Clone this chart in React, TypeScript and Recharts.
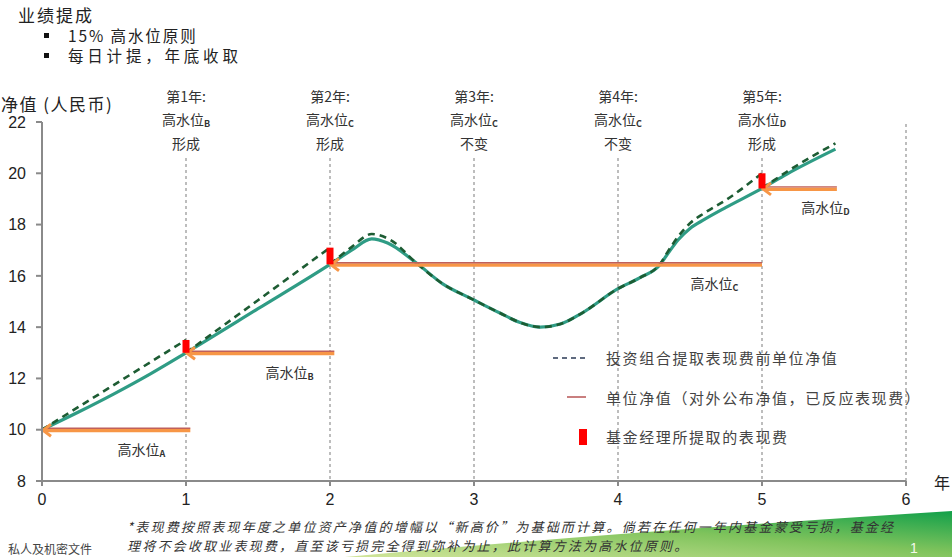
import React from 'react';
import { ComposedChart, Line, XAxis, YAxis, ReferenceLine, Legend } from 'recharts';

// ---- axes ----
const xTicks = [0, 1, 2, 3, 4, 5, 6];
const yTicks = [8, 10, 12, 14, 16, 18, 20, 22];

// ---- unit NAV (after performance fee) ----
const navX = [0, 0.25, 0.5, 0.75, 1, 1.5, 2, 2.15, 2.29, 2.4, 2.6, 2.78, 3, 3.18, 3.32, 3.46, 3.6, 3.75, 4, 4.15, 4.29, 4.35, 4.42, 4.5, 4.6, 4.75, 5, 5.17, 5.51];
const navY = [10, 10.68, 11.4, 12.17, 13, 14.72, 16.45, 17.0, 17.44, 17.28, 16.5, 15.7, 15.06, 14.55, 14.18, 14.0, 14.12, 14.55, 15.5, 15.92, 16.42, 16.9, 17.42, 17.85, 18.2, 18.67, 19.41, 19.96, 20.94];

// ---- NAV before performance fee, one segment per fee period ----
const grossX1 = [0, 0.5, 1];
const grossY1 = [10, 11.75, 13.5];
const grossX2 = [1, 1.5, 2];
const grossY2 = [13, 15.05, 17.1];
const grossX3 = [2, 2.15, 2.29, 2.42, 2.6, 2.78, 3, 3.18, 3.32, 3.46, 3.6, 3.75, 4, 4.15, 4.29, 4.35, 4.42, 4.5, 4.6, 4.75, 5];
const grossY3 = [16.45, 17.12, 17.63, 17.4, 16.5, 15.7, 15.06, 14.55, 14.18, 14.0, 14.12, 14.55, 15.5, 15.92, 16.45, 16.98, 17.55, 18.05, 18.45, 18.96, 20.0];
const grossX4 = [5, 5.17, 5.51];
const grossY4 = [19.41, 20.05, 21.17];

// ---- performance fees charged (year, NAV after fee, NAV before fee) ----
const feeYear = [1, 2, 5];
const feeLow = [13, 16.45, 19.41];
const feeHigh = [13.5, 17.1, 20.0];

// ---- high-water marks ----
const hwmName = ['A', 'B', 'C', 'D'];
const hwmLevel = [10, 13, 16.45, 19.41];
const hwmStart = [0, 1, 2, 5];
const hwmEnd = [1.03, 2.03, 5, 5.52];
const hwmLabelX = [0.69, 1.72, 4.67, 5.44];

// ---- yearly notes above the chart ----
const noteYear = [1, 2, 3, 4, 5];
const noteTitle = ['第1年:', '第2年:', '第3年:', '第4年:', '第5年:'];
const noteMark = ['B', 'C', 'C', 'C', 'D'];
const noteStatus = ['形成', '形成', '不变', '不变', '形成'];
const guideTop = 20.6;

const legendLabels = ['投资组合提取表现费前单位净值', '单位净值（对外公布净值，已反应表现费）', '基金经理所提取的表现费'];

const zip = (xs: number[], ys: number[]) => xs.map((x, i) => ({ x, y: ys[i] }));
const navData = zip(navX, navY);
const grossSegments = [zip(grossX1, grossY1), zip(grossX2, grossY2), zip(grossX3, grossY3), zip(grossX4, grossY4)];
const feeSegments = feeYear.map((yr, i) => [{ x: yr, y: feeLow[i] }, { x: yr, y: feeHigh[i] }]);

const CJK = "'Noto Sans CJK SC', 'Liberation Sans', sans-serif";
const LAT = "'Liberation Sans', Arial, sans-serif";

const TEAL = '#2f9c85';
const DARK = '#1d5c33';
const ORANGE = '#f79646';
const PINK = '#c0605a';

const noteLabel = (i: number) => (props: any) => {
  const vb = props.viewBox || {};
  const cx = vb.x;
  const top = vb.y;
  const common = { textAnchor: 'middle' as const, dominantBaseline: 'central' as const, fill: '#333', fontSize: 14, fontFamily: CJK };
  return (
    <g>
      <text x={cx} y={top - 62} {...common}>{noteTitle[i]}</text>
      <text x={cx} y={top - 39} {...common}>
        高水位<tspan fontSize={9} fontWeight="bold" dy={4}>{noteMark[i]}</tspan>
      </text>
      <text x={cx} y={top - 15} {...common}>{noteStatus[i]}</text>
    </g>
  );
};

const hwmShape = (i: number) => (props: any) => {
  const { x1, y1, x2 } = props;
  const left = Math.min(x1, x2);
  const right = Math.max(x1, x2);
  const y = y1;
  const lx = left + ((hwmLabelX[i] - hwmStart[i]) / (hwmEnd[i] - hwmStart[i])) * (right - left);
  return (
    <g>
      <line x1={left + 2} y1={y + 0.8} x2={right} y2={y + 0.8} stroke={ORANGE} strokeWidth={3.5} />
      <line x1={left + 5} y1={y - 1.5} x2={right} y2={y - 1.5} stroke={PINK} strokeWidth={1.4} />
      <polyline points={`${left + 9},${y - 5.5} ${left + 1},${y + 0.5} ${left + 9},${y + 6.5}`} fill="none" stroke={ORANGE} strokeWidth={3} />
      <text x={lx} y={y + 19} textAnchor="middle" dominantBaseline="central" fill="#333" fontSize={14} fontFamily={CJK}>
        高水位<tspan fontSize={9} fontWeight="bold" dy={4}>{hwmName[i]}</tspan>
      </text>
    </g>
  );
};

const LegendBox = () => (
  <div style={{ fontFamily: CJK, fontSize: 15, color: '#444', letterSpacing: 1.6 }}>
    {legendLabels.map((label, i) => (
      <div key={i} style={{ display: 'flex', alignItems: 'center', height: 39.5 }}>
        <div style={{ width: 58, height: 20, position: 'relative' }}>
          {i === 0 && (
            <svg width={58} height={20} style={{ position: 'absolute', left: 0, top: 0 }}>
              <line x1={5} y1={10} x2={38} y2={10} stroke="#2b3a55" strokeWidth={1.5} strokeDasharray="5 4" />
            </svg>
          )}
          {i === 1 && (
            <svg width={58} height={20} style={{ position: 'absolute', left: 0, top: 0 }}>
              <line x1={19} y1={10} x2={38} y2={10} stroke="#a52a2a" strokeWidth={1.2} />
            </svg>
          )}
          {i === 2 && (
            <svg width={58} height={20} style={{ position: 'absolute', left: 0, top: 0 }}>
              <rect x={31} y={2} width={8} height={16} fill="#ff0000" />
            </svg>
          )}
        </div>
        <span>{label}</span>
      </div>
    ))}
  </div>
);

export default function App() {
  return (
    <div style={{ position: 'absolute', left: 0, top: 0, width: 952, height: 557, overflow: 'hidden', background: '#fff' }}>
      <svg width={952} height={557} style={{ position: 'absolute', left: 0, top: 0 }}>
        <defs>
          <linearGradient id="swoosh" x1="1" y1="0" x2="0" y2="1">
            <stop offset="0" stopColor="#12a04a" />
            <stop offset="0.45" stopColor="#7fc35c" />
            <stop offset="1" stopColor="#d2e59a" />
          </linearGradient>
        </defs>
        <path d="M 345 557 Q 620 532 952 511 L 952 557 Z" fill="url(#swoosh)" />
      </svg>

      <div style={{ position: 'absolute', left: 0, top: 0 }}>
        <ComposedChart width={952} height={557} margin={{ top: 122, right: 46, bottom: 46, left: 0 }}>
          <XAxis
            dataKey="x"
            type="number"
            domain={[0, 6]}
            ticks={xTicks}
            interval={0}
            stroke="#8a8a8a"
            strokeWidth={2}
            tickSize={5}
            tickMargin={8}
            height={30}
            tick={{ fill: '#222', fontSize: 16, fontFamily: LAT }}
          />
          <YAxis
            dataKey="y"
            type="number"
            domain={[8, 22]}
            ticks={yTicks}
            interval={0}
            width={42}
            stroke="#8a8a8a"
            strokeWidth={2}
            tickSize={6}
            tickMargin={10}
            tick={{ fill: '#222', fontSize: 16, fontFamily: LAT }}
          />
          {noteYear.map((yr, i) => (
            <ReferenceLine
              key={`g${yr}`}
              segment={[{ x: yr, y: guideTop }, { x: yr, y: 8 }]}
              stroke="#9a9a9a"
              strokeWidth={1.3}
              strokeDasharray="3 3"
              label={noteLabel(i)}
            />
          ))}
          <ReferenceLine x={6} stroke="#9a9a9a" strokeWidth={1.3} strokeDasharray="3 3" />

          <Line data={navData} dataKey="y" type="monotone" stroke={TEAL} strokeWidth={3.2} dot={false} activeDot={false} isAnimationActive={false} />
          {grossSegments.map((seg, i) => (
            <Line key={`d${i}`} data={seg} dataKey="y" type="monotone" stroke={DARK} strokeWidth={2.6} strokeDasharray="7 5" dot={false} activeDot={false} isAnimationActive={false} />
          ))}

          {hwmName.map((n, i) => (
            <ReferenceLine
              key={`h${n}`}
              segment={[{ x: hwmStart[i], y: hwmLevel[i] }, { x: hwmEnd[i], y: hwmLevel[i] }]}
              shape={hwmShape(i)}
            />
          ))}

          {feeSegments.map((seg, i) => (
            <Line key={`f${i}`} data={seg} dataKey="y" type="linear" stroke="#ff0000" strokeWidth={7} dot={false} activeDot={false} isAnimationActive={false} />
          ))}

          <Legend
            layout="vertical"
            align="center"
            verticalAlign="middle"
            content={() => <LegendBox />}
            wrapperStyle={{ left: 548, top: 338, width: 404, height: 120 }}
          />
        </ComposedChart>
      </div>

      <svg width={952} height={557} style={{ position: 'absolute', left: 0, top: 0, pointerEvents: 'none' }}>
        <text x={18} y={14} dominantBaseline="central" fontSize={17} fontFamily={CJK} fill="#222" letterSpacing={2}>业绩提成</text>
        <rect x={44} y={33} width={5} height={5} fill="#111" />
        <text x={68} y={35} dominantBaseline="central" fontSize={15.5} fontFamily={CJK} fill="#222" letterSpacing={1.9}>15% 高水位原则</text>
        <rect x={44} y={53} width={5} height={5} fill="#111" />
        <text x={68} y={55} dominantBaseline="central" fontSize={15.5} fontFamily={CJK} fill="#222" letterSpacing={3.8}>每日计提，年底收取</text>

        <text x={1} y={103} dominantBaseline="central" fontSize={17} fontFamily={CJK} fill="#222" letterSpacing={1.5}>净值 (人民币)</text>
        <text x={934} y={482} dominantBaseline="central" fontSize={16} fontFamily={CJK} fill="#222">年</text>

        <text x={127} y={526} dominantBaseline="central" fontSize={13} fontStyle="italic" fontFamily={CJK} fill="#333" letterSpacing={2.2}>
          *表现费按照表现年度之单位资产净值的增幅以“新高价”为基础而计算。倘若在任何一年内基金蒙受亏损，基金经
        </text>
        <text x={127} y={545} dominantBaseline="central" fontSize={13} fontStyle="italic" fontFamily={CJK} fill="#333" letterSpacing={2.2}>
          理将不会收取业表现费，直至该亏损完全得到弥补为止，此计算方法为高水位原则。
        </text>
        <text x={8} y={548} dominantBaseline="central" fontSize={12} fontFamily={CJK} fill="#444">私人及机密文件</text>
        <text x={910} y={548} dominantBaseline="central" fontSize={14} fontFamily={LAT} fill="#f4f8ec">1</text>
      </svg>
    </div>
  );
}
